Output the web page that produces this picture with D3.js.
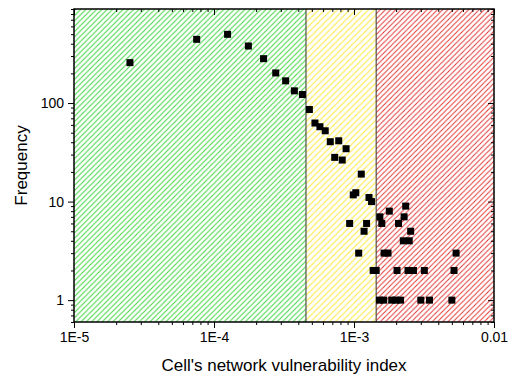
<!DOCTYPE html>
<html><head><meta charset="utf-8">
<script src="https://cdn.jsdelivr.net/npm/d3@7"></script>
<style>body{margin:0;background:#fff}svg{display:block}text{font-family:"Liberation Sans",Arial,sans-serif;fill:#000}</style>
</head><body>
<script>
// ---- data ----
const vulnIndex = [2.51e-5,7.52e-5,1.25e-4,1.76e-4,2.26e-4,2.76e-4,3.25e-4,3.75e-4,4.28e-4,4.80e-4,
  5.26e-4,5.71e-4,6.23e-4,6.77e-4,7.78e-4,8.78e-4,7.28e-4,8.24e-4,1.127e-3,9.88e-4,1.03e-3,1.28e-3,1.335e-3,
  1.787e-3,2.34e-3,1.53e-3,2.28e-3,9.31e-4,1.23e-3,1.58e-3,2.08e-3,1.18e-3,2.54e-3,2.25e-3,2.48e-3,
  1.08e-3,1.64e-3,1.75e-3,5.36e-3,1.37e-3,1.44e-3,2.03e-3,2.43e-3,2.66e-3,3.18e-3,5.18e-3,
  1.52e-3,1.63e-3,1.86e-3,1.99e-3,2.15e-3,3.00e-3,3.46e-3,5.00e-3];
const frequency = [257,443,498,379,282,202,168,133,122,86,
  62.7,57.5,52.3,40.5,41.4,34.4,28.1,26.4,19,11.7,12.3,11,10,
  8,9,7,7,6,6,6,6,5,5,4,4,
  3,3,3,3,2,2,2,2,2,2,2,
  1,1,1,1,1,1,1,1];
const zoneBreaks = [4.54e-4, 1.44e-3];
const xMajorTicks = [1e-5,1e-4,1e-3,1e-2];
const xTickLabels = ["1E-5","1E-4","1E-3","0.01"];
const yMajorTicks = [1,10,100];
const yTickLabels = ["1","10","100"];
const xTitle = "Cell's network vulnerability index";
const yTitle = "Frequency";

// ---- layout ----
const W=519,H=378, L=74,R=494,T=9,B=322;
const x=d3.scaleLog().domain([1e-5,1e-2]).range([L,R]);
const y=d3.scaleLog().domain([0.6,900]).range([B,T]);

const svg=d3.select("body").append("svg").attr("width",W).attr("height",H);
const defs=svg.append("defs");
function hatch(id,color,s){
  const p=defs.append("pattern").attr("id",id).attr("patternUnits","userSpaceOnUse")
    .attr("width",s).attr("height",s);
  p.append("path").attr("d",`M${-s/2},${s/2} L${s/2},${-s/2} M0,${s} L${s},0 M${s/2},${s*1.5} L${s*1.5},${s/2}`)
    .attr("stroke",color).attr("stroke-width",1.05).attr("fill","none");
}
hatch("hg","#3fd63f",5.3);
hatch("hy","#fbe93a",6.2);
hatch("hr","#e23a3a",5.2);

const edges=[x.domain()[0],...zoneBreaks,x.domain()[1]];
const fills=["url(#hg)","url(#hy)","url(#hr)"];
for(let i=0;i<3;i++){
  svg.append("rect").attr("x",x(edges[i])).attr("y",T).attr("width",x(edges[i+1])-x(edges[i])).attr("height",B-T)
    .attr("fill",fills[i]);
}
zoneBreaks.forEach(b=>svg.append("line").attr("x1",x(b)).attr("x2",x(b)).attr("y1",T).attr("y2",B)
  .attr("stroke","#333").attr("stroke-width",1));

// points
const pts=vulnIndex.map((v,i)=>({v,f:frequency[i]}));
svg.append("g").selectAll("rect").data(pts).join("rect")
  .attr("x",d=>x(d.v)-3.5).attr("y",d=>y(d.f)-3.5).attr("width",7).attr("height",7).attr("fill","#000");

// minor ticks
function minors(lo,hi){const out=[];for(let e=Math.floor(Math.log10(lo));e<=Math.ceil(Math.log10(hi));e++){for(let k=2;k<=9;k++){const v=k*Math.pow(10,e);if(v>=lo&&v<=hi)out.push(v);}}return out;}
const xMin=minors(1e-5,1e-2), yMin=minors(0.6,900);

function styleAxis(g){g.select(".domain").remove();g.selectAll("line").attr("stroke","#000").attr("stroke-width",1);}

// bottom
svg.append("g").attr("transform",`translate(0,${B})`).call(d3.axisBottom(x).tickValues(xMajorTicks).tickSize(6).tickPadding(4)
  .tickFormat((d,i)=>xTickLabels[i])).call(styleAxis).selectAll("text").attr("font-size",14);
svg.append("g").attr("transform",`translate(0,${B})`).call(d3.axisBottom(x).tickValues(xMin).tickSize(3).tickFormat("")).call(styleAxis);
// top (inward)
svg.append("g").attr("transform",`translate(0,${T})`).call(d3.axisBottom(x).tickValues(xMajorTicks).tickSize(6).tickFormat("")).call(styleAxis);
svg.append("g").attr("transform",`translate(0,${T})`).call(d3.axisBottom(x).tickValues(xMin).tickSize(3).tickFormat("")).call(styleAxis);
// left
svg.append("g").attr("transform",`translate(${L},0)`).call(d3.axisLeft(y).tickValues(yMajorTicks).tickSize(6).tickPadding(4)
  .tickFormat((d,i)=>yTickLabels[i])).call(styleAxis).selectAll("text").attr("font-size",14);
svg.append("g").attr("transform",`translate(${L},0)`).call(d3.axisLeft(y).tickValues(yMin).tickSize(3).tickFormat("")).call(styleAxis);
// right (inward)
svg.append("g").attr("transform",`translate(${R},0)`).call(d3.axisLeft(y).tickValues(yMajorTicks).tickSize(6).tickFormat("")).call(styleAxis);
svg.append("g").attr("transform",`translate(${R},0)`).call(d3.axisLeft(y).tickValues(yMin).tickSize(3).tickFormat("")).call(styleAxis);

// frame
svg.append("rect").attr("x",L).attr("y",T).attr("width",R-L).attr("height",B-T).attr("fill","none")
  .attr("stroke","#000").attr("stroke-width",1.5);

// titles
svg.append("text").attr("x",(L+R)/2).attr("y",371).attr("text-anchor","middle").attr("font-size",17).text(xTitle);
svg.append("text").attr("transform",`translate(27,${(T+B)/2}) rotate(-90)`).attr("text-anchor","middle").attr("font-size",17).text(yTitle);
</script>
</body></html>
